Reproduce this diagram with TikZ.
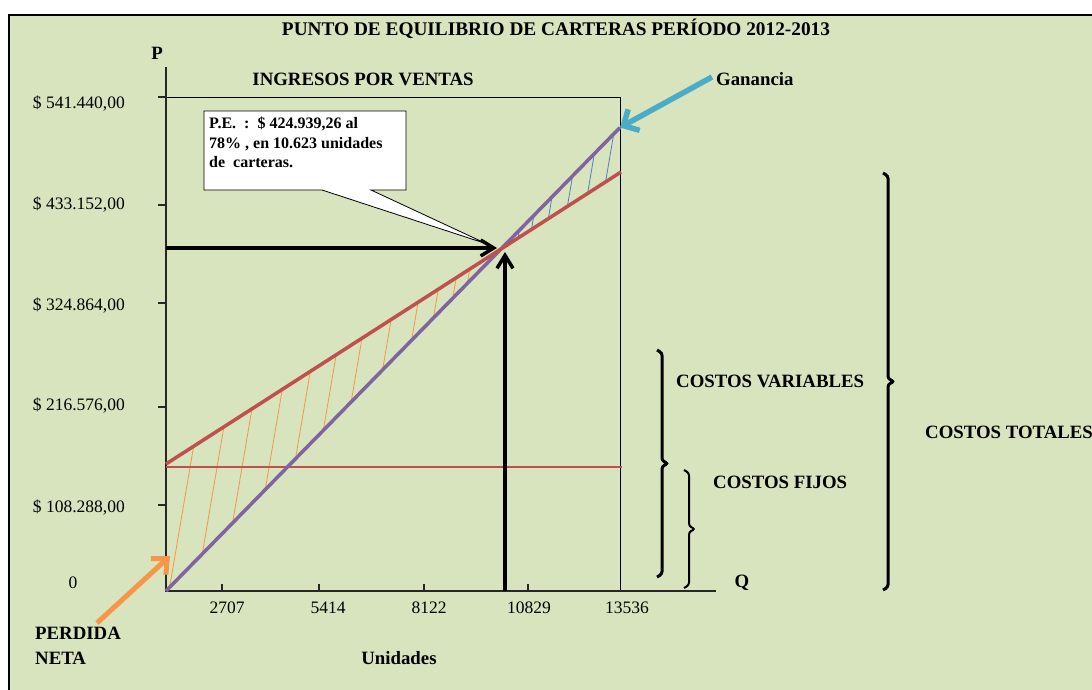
\documentclass[tikz,border=0pt]{standalone}
\usepackage{fontspec}
\setmainfont{Liberation Serif}
\usetikzlibrary{arrows.meta}
\definecolor{fondo}{RGB}{215,228,189}
\definecolor{rojo}{RGB}{192,80,77}
\definecolor{morado}{RGB}{128,100,162}
\definecolor{naranja}{RGB}{247,150,70}
\definecolor{azul}{RGB}{79,129,189}
\definecolor{celeste}{RGB}{75,172,198}
\tikzset{
  etiq/.style={font=\fontsize{18.8}{25}\selectfont\bfseries, inner sep=0pt},
  valor/.style={font=\fontsize{17.5}{20}\selectfont, inner sep=0pt},
  flecha/.style={line width=3.5pt, -{Straight Barb[length=13pt,width=16pt]}},
}
\begin{document}
\begin{tikzpicture}[x=1pt,y=1pt]
  \useasboundingbox (0,0) rectangle (1092,-689);
  \clip (0,0) rectangle (1092,-689);
  % Frame
  \fill[white] (0,0) rectangle (1092,-689);
  \draw[line width=2.5pt, fill=fondo] (9,-15) rectangle (1100,-700);

  % Title
  \node[etiq, font=\fontsize{19.3}{22}\selectfont\bfseries, anchor=base] (titulo) at (556,-35)
    {PUNTO DE EQUILIBRIO DE CARTERAS PERÍODO 2012-2013};

  % Key points
  \coordinate (O) at (166,-591);
  \coordinate (be) at (502,-248);
  \coordinate (bex) at (505,-591);
  \coordinate (ing) at (620,-127.5);
  \coordinate (ct0) at (166,-464);
  \coordinate (ct) at (621,-172);
  \coordinate (pn) at (97,-623);

  % Hatching, loss
  \begin{scope}
    \clip (O) -- (ct0) -- (be) -- cycle;
    \foreach \x in {169,196,221,248,273,296,319,345,369,387,403,415}
      \draw[naranja, line width=0.8pt] (\x,-591) -- ++(85,500);
  \end{scope}
  % Hatching, gain
  \begin{scope}
    \clip (be) -- (ing) -- (ct) -- cycle;
    \foreach \x in {458,470,485,502,520,536}
      \draw[azul, line width=0.8pt] (\x,-591) -- ++(85,500);
  \end{scope}

  % Axes and box
  \draw[line width=0.8pt] (166,-97) -- (620,-97) -- (620,-591);
  \draw[line width=1.3pt, black!85] (166,-67) -- (O) -- (716,-591);
  \foreach \y/\ly/\t in {97/104/{\$ 541.440,00}, 205/205/{\$ 433.152,00},
      303/306/{\$ 324.864,00}, 407/406/{\$ 216.576,00}, 505/507/{\$ 108.288,00}} {
    \draw[line width=1.3pt, black!85] (158,-\y) -- (166,-\y);
    \node[valor, anchor=east] at (125,-\ly) {\t};
  }
  \node[valor] (cero) at (73,-583) {0};
  \foreach \x/\lx/\t in {222/227/2707, 319/328/5414, 424/429/8122, 528/529/10829} {
    \draw[line width=1.3pt, black!85] (\x,-591) -- (\x,-584);
    \node[valor] at (\lx,-608) {\t};
  }
  \node[valor] (q13536) at (627,-608) {13536};

  % Cost and income lines
  \draw[rojo, line width=1.1pt] (166,-467) -- (622,-467);
  \draw[morado, line width=3.5pt] (O) -- (ing);
  \draw[rojo, line width=3.5pt] (ct0) -- (ct);

  % Break-even arrows
  \draw[flecha, shorten >=5pt] (O |- be) -- (be);
  \draw[flecha, shorten >=4pt] (bex) -- (bex |- be);

  % Callout
  \draw[fill=white, line width=0.8pt] (204,-111) -- (406,-111) -- (406,-190) -- (371,-190)
    -- (487,-244) -- (322,-190) -- (204,-190) -- cycle;
  \node[inner sep=0pt, anchor=north west, align=left,
    font=\fontsize{16}{19.5}\selectfont\bfseries] (pe) at (209,-117)
    {P.E.\ \ :\ \ \$ 424.939,26 al\\78\% , en 10.623 unidades\\de\ \ carteras.};

  % Labels
  \node[etiq] (ingresos) at (363,-79) {INGRESOS POR VENTAS};
  \node[etiq] (ejeP) at (157,-53) {P};
  \node[etiq] (ejeQ) at (742,-583) {Q};
  \node[etiq] (unidades) at (399,-658) {Unidades};
  \node[etiq, anchor=west] (gan) at (716,-79) {Ganancia};
  \node[etiq, anchor=north west, align=left] (perdida) at (35,-627) {PERDIDA\\NETA};
  \node[etiq, anchor=west] (cvar) at (676,-381) {COSTOS VARIABLES};
  \node[etiq, anchor=west] (cfij) at (713,-482) {COSTOS FIJOS};
  \node[etiq, anchor=west] (ctot) at (925,-432) {COSTOS TOTALES};

  % Pointer arrows
  \draw[celeste, line width=5.5pt, -{Straight Barb[length=12pt,width=24pt]}]
    ([xshift=-4pt,yshift=2pt]gan.west) -- (ing);
  \draw[naranja, line width=5pt, -{Straight Barb[length=12pt,width=22pt]}]
    (pn) -- (170,-556);

  % Braces
  \foreach \x/\ya/\yb/\lw in {662/350/577/3, 689/470/588/2, 888/173/590/3} {
    \pgfmathsetmacro{\ym}{(\ya+\yb)/2}
    \draw[line width=\lw pt, rounded corners=2.5pt] (\x-5,-\ya) -- (\x,-\ya-3)
      -- (\x,-\ym+3) -- (\x+6,-\ym) -- (\x,-\ym-3) -- (\x,-\yb+3) -- (\x-5,-\yb);
  }
\end{tikzpicture}
\end{document}
